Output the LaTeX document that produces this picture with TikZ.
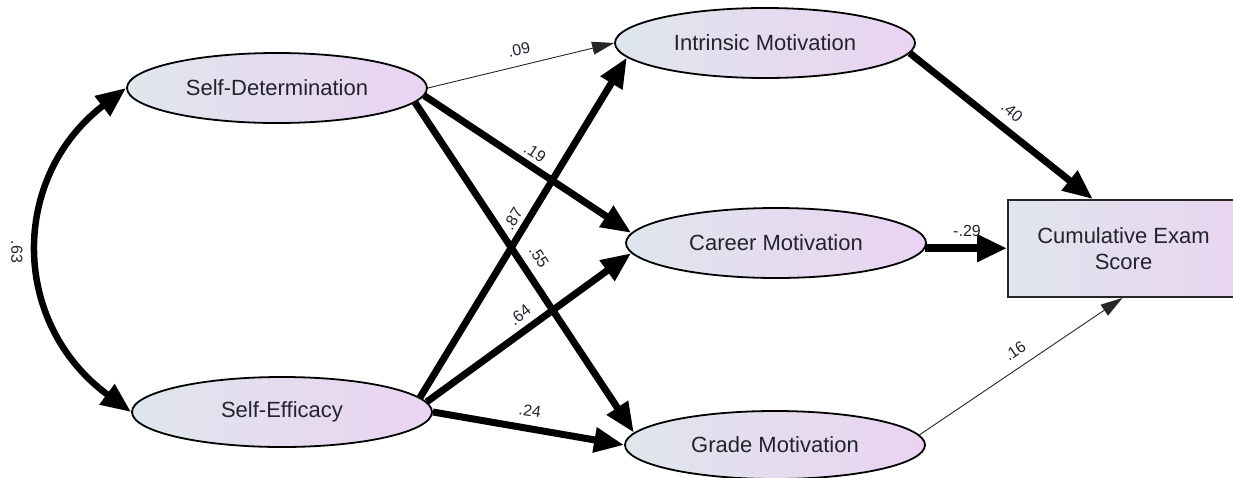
\documentclass[tikz,border=0pt]{standalone}
\usepackage{fontspec}
\setmainfont{Liberation Sans}
\usetikzlibrary{shapes.geometric,arrows.meta}
\definecolor{fillL}{HTML}{DFE6EC}
\definecolor{fillR}{HTML}{EAD3F2}
\definecolor{txt}{HTML}{23232E}
\tikzset{
  latent/.style={ellipse, draw=black, line width=1.8pt, left color=fillL, right color=fillR,
    minimum width=300pt, minimum height=70pt, inner sep=0pt, text=txt,
    font=\fontsize{22}{26}\selectfont},
  obs/.style={rectangle, draw=black!85, line width=1.8pt, left color=fillL, right color=fillR,
    minimum width=250pt, minimum height=97pt, inner sep=0pt, text=txt, align=center,
    font=\fontsize{22}{26}\selectfont},
  thick path/.style={line width=7pt, -{Triangle[length=30pt,width=24pt]}},
  thin path/.style={line width=0.9pt, black!85, -{Triangle[length=22pt,width=13pt]}},
  coef/.style={font=\fontsize{16}{19}\selectfont, text=txt, inner sep=0pt}
}
\begin{document}
\begin{tikzpicture}[x=1pt,y=-1pt]
\useasboundingbox (0,0) rectangle (1233,477);
% nodes
\node[latent] (sd) at (277,88) {Self-Determination};
\node[latent] (se) at (282,412) {Self-Efficacy};
\node[latent] (im) at (765,43) {Intrinsic Motivation};
\node[latent] (cm) at (776,243) {Career Motivation};
\node[latent, minimum height=68pt] (gm) at (775,445) {Grade Motivation};
\node[obs, anchor=west] (box) at (1007,248.5) {};
\node[text=txt, align=center, font=\fontsize{22}{26}\selectfont] (boxtext) at (1123.5,249) {Cumulative Exam\\Score};
% covariance
\draw[line width=6.5pt, {Triangle[length=30pt,width=24pt]}-{Triangle[length=30pt,width=24pt]}]
  (sd.west) .. controls (10,177) and (10,323) .. (se.west);
% paths
\draw[thin path] (sd.east) -- (im.west);
\draw[thick path] (sd.-3) -- (cm.176);
\draw[thick path] (sd.-6) -- (gm.175);
\draw[thick path] (se.6) -- (im.186);
\draw[thick path] (se.4) -- (cm.184);
\draw[thick path] (se.east) -- (gm.west);
\draw[thick path] (im.-4) -- ([xshift=-40pt]box.north);
\draw[line width=8pt, -{Triangle[length=30pt,width=26pt]}] (cm.-2) -- (cm.-2 -| box.west);
\draw[thin path] (gm.4) -- ([xshift=-1pt]boxtext.south |- box.south);
% coefficients
\node[coef, rotate=-90] (c63) at (17,252) {.63};
\node[coef, rotate=12] (c09) at (519,50) {.09};
\node[coef, rotate=-34] (c19) at (535,153) {.19};
\node[coef, rotate=59] (c87) at (513,219) {.87};
\node[coef, rotate=-57] (c55) at (539,257) {.55};
\node[coef, rotate=38] (c64) at (520,315) {.64};
\node[coef, rotate=-8] (c24) at (530,411) {.24};
\node[coef, rotate=-41] (c40) at (1012,112) {.40};
\node[coef] (c29) at (967,231) {-.29};
\node[coef, rotate=35] (c16) at (1015,351) {.16};
\end{tikzpicture}
\end{document}
